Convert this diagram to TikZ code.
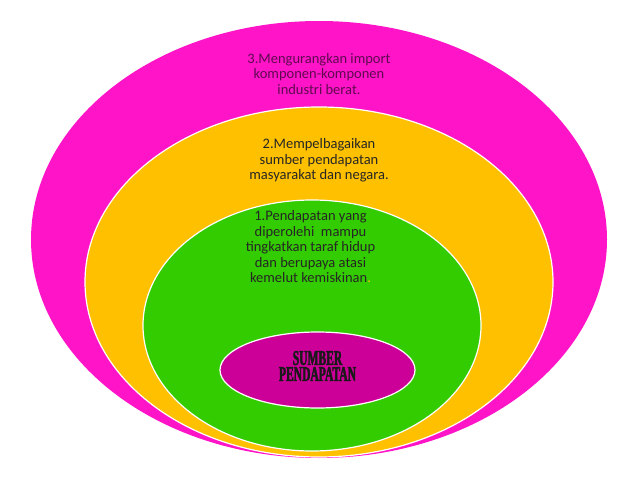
\documentclass[tikz,border=0pt]{standalone}
\usepackage{fontspec}
\setmainfont{Carlito}
\newfontfamily\corefont[FakeStretch=0.55,FakeBold=2]{Liberation Serif}
\usetikzlibrary{shapes.geometric}
\definecolor{ringpink}{RGB}{255,20,200}
\definecolor{ringgold}{RGB}{255,192,0}
\definecolor{ringgreen}{RGB}{51,204,0}
\definecolor{corepurple}{RGB}{204,0,153}
\definecolor{darkplum}{RGB}{95,10,80}

\begin{document}
\begin{tikzpicture}[x=1pt,y=-1pt]
\tikzset{ring/.style={ellipse, draw=white, line width=1.2pt, inner sep=0pt},
  ringtext/.style={align=center, font=\fontsize{14.5}{15.5}\selectfont, text=black!85}}
\useasboundingbox (0,0) rectangle (638,479);
% nested rings, outer to inner
\node[ring, draw=none, fill=ringpink, minimum width=576, minimum height=437] (outer) at (319,239.5) {};
\node[ring, fill=ringgold, minimum width=468, minimum height=350] (middle) at (319,282) {};
\node[ring, fill=ringgreen, minimum width=338, minimum height=251] (inner) at (312,325.5) {};
\node[ring, fill=corepurple, minimum width=195, minimum height=76] (core) at (317.5,370) {};
% labels
\node[ringtext, text=darkplum] (import) at (319,74) {3.Mengurangkan import\\komponen-komponen\\industri berat.};
\node[ringtext] (diverse) at (319,160.5) {2.Mempelbagaikan\\sumber pendapatan\\masyarakat dan negara.};
\node[ringtext] (income) at (310.5,247) {1.Pendapatan yang\\diperolehi~ mampu\\tingkatkan taraf hidup\\dan berupaya atasi\\kemelut kemiskinan\textcolor{ringgold}{.}};
\node[align=center, font=\corefont\bfseries\fontsize{21}{16}\selectfont, text=black!90] (source) at (317.5,366) {SUMBER\\PENDAPATAN};
\end{tikzpicture}
\end{document}
